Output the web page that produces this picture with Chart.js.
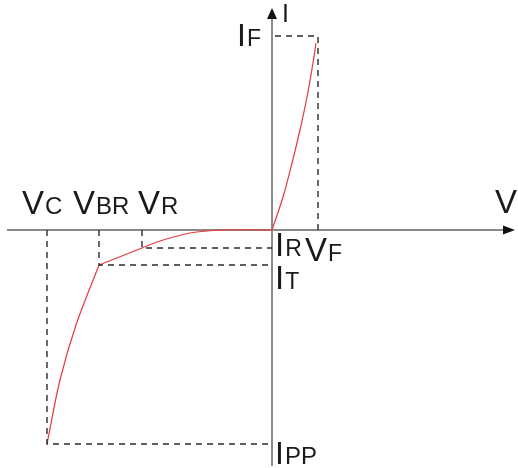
<!DOCTYPE html>
<html>
<head>
<meta charset="utf-8">
<script src="https://cdn.jsdelivr.net/npm/chart.js@4.4.1/dist/chart.umd.min.js"></script>
<style>
  html, body { margin: 0; padding: 0; background: #ffffff; }
  #wrap { width: 518px; height: 468px; position: relative; }
</style>
</head>
<body>
<div id="wrap"><canvas id="c"></canvas></div>
<script>
// ---- Data (schematic units: V to the right, I upward) ----
// Characteristic points
const pointNames  = ['VF', 'IF', 'VR', 'IR', 'VBR', 'IT', 'VC', 'IPP'];
const pointValues = [46, 194, -130, -18, -173, -35, -225, -214];
const P = {};
pointNames.forEach((n, i) => { P[n] = pointValues[i]; });

// Forward conduction curve
const forwardV = [0, 11, 20, 28, 35, 41, 44];
const forwardI = [0, 33, 67, 100, 133, 167, 187];

// Reverse leakage curve (from VBR up to the origin)
const leakV = [-173, -130, -115, -82, -49, 0];
const leakI = [-35, -18, -12, -3, 0, 0];

// Breakdown / clamping curve (from VC up to VBR)
const clampV = [-225, -212, -196, -173];
const clampI = [-214, -150, -95, -35];

// Labels: [main letter, subscript]
const voltLabels = [['V', 'C'], ['V', 'BR'], ['V', 'R'], ['V', 'F']];
const currLabels = [['I', 'R'], ['I', 'T'], ['I', 'PP'], ['I', 'F']];
const axisLabels = ['V', 'I'];

const zip = (xs, ys) => xs.map((x, i) => ({ x: x, y: ys[i] }));

const RED = '#e8383d';
const DASH = '#2a2a2a';

function guide(vx, iy) {
  return [{ x: vx, y: 0 }, { x: vx, y: iy }, { x: 0, y: iy }];
}

const datasets = [
  { data: guide(P.VF, P.IF) },
  { data: guide(P.VR, P.IR) },
  { data: guide(P.VBR, P.IT) },
  { data: guide(P.VC, P.IPP) }
].map(d => Object.assign(d, {
  showLine: true, borderColor: DASH, borderWidth: 1.4, borderDash: [6, 5],
  pointRadius: 0, tension: 0, fill: false
}));

[zip(forwardV, forwardI), zip(leakV, leakI), zip(clampV, clampI)].forEach(d => {
  datasets.push({
    data: d, showLine: true, borderColor: RED, borderWidth: 1.2,
    pointRadius: 0, tension: 0.35, fill: false
  });
});

const axesPlugin = {
  id: 'axesPlugin',
  beforeDatasetsDraw(chart) {
    const { ctx, scales: { x, y } } = chart;
    const ox = x.getPixelForValue(0), oy = y.getPixelForValue(0);
    ctx.save();
    ctx.strokeStyle = '#8a8a8a';
    ctx.lineWidth = 2;
    ctx.beginPath();
    ctx.moveTo(7, oy); ctx.lineTo(506, oy);
    ctx.moveTo(ox, 16); ctx.lineTo(ox, 466);
    ctx.stroke();
    ctx.fillStyle = '#111';
    ctx.beginPath();
    ctx.moveTo(515, oy); ctx.lineTo(503, oy - 4.5); ctx.lineTo(503, oy + 4.5); ctx.closePath();
    ctx.fill();
    ctx.beginPath();
    ctx.moveTo(ox, 8); ctx.lineTo(ox - 5, 19); ctx.lineTo(ox + 5, 19); ctx.closePath();
    ctx.fill();
    ctx.restore();
  },
  afterDraw(chart) {
    const { ctx, scales: { x, y } } = chart;
    const ox = x.getPixelForValue(0), oy = y.getPixelForValue(0);
    const FONT = '"Liberation Sans", Arial, sans-serif';
    function lab(pair, left, base, big, small) {
      ctx.font = big + 'px ' + FONT;
      ctx.fillText(pair[0], left, base);
      const w = ctx.measureText(pair[0]).width;
      if (pair[1]) {
        ctx.font = small + 'px ' + FONT;
        ctx.fillText(pair[1], left + w + 1, base);
      }
    }
    ctx.save();
    ctx.fillStyle = '#1a1a1a';
    ctx.textBaseline = 'alphabetic';
    // voltage labels above / below the V axis
    lab(voltLabels[0], x.getPixelForValue(P.VC) - 25, oy - 16, 33, 24);
    lab(voltLabels[1], x.getPixelForValue(P.VBR) - 26, oy - 16, 33, 24);
    lab(voltLabels[2], x.getPixelForValue(P.VR) - 4, oy - 16, 33, 24);
    lab(voltLabels[3], x.getPixelForValue(P.VF) - 13, oy + 31, 33, 23);
    // current labels right of the I axis
    lab(currLabels[0], ox + 3, y.getPixelForValue(P.IR) + 8, 33, 23);
    lab(currLabels[1], ox + 3, y.getPixelForValue(P.IT) + 24, 33, 23);
    lab(currLabels[2], ox + 3, y.getPixelForValue(P.IPP) + 20, 32, 24);
    lab(currLabels[3], ox - 35, y.getPixelForValue(P.IF) + 10, 32, 23);
    // axis names
    lab([axisLabels[0], ''], 495, oy - 17, 33, 0);
    lab([axisLabels[1], ''], ox + 10, 22, 25, 0);
    ctx.restore();
  }
};

new Chart(document.getElementById('c'), {
  type: 'scatter',
  data: { datasets: datasets },
  options: {
    responsive: true,
    maintainAspectRatio: false,
    animation: false,
    layout: { padding: 0 },
    plugins: { legend: { display: false }, tooltip: { enabled: false } },
    scales: {
      x: { type: 'linear', display: false, min: -272, max: 246 },
      y: { type: 'linear', display: false, min: -238, max: 230 }
    }
  },
  plugins: [axesPlugin]
});
</script>
</body>
</html>
